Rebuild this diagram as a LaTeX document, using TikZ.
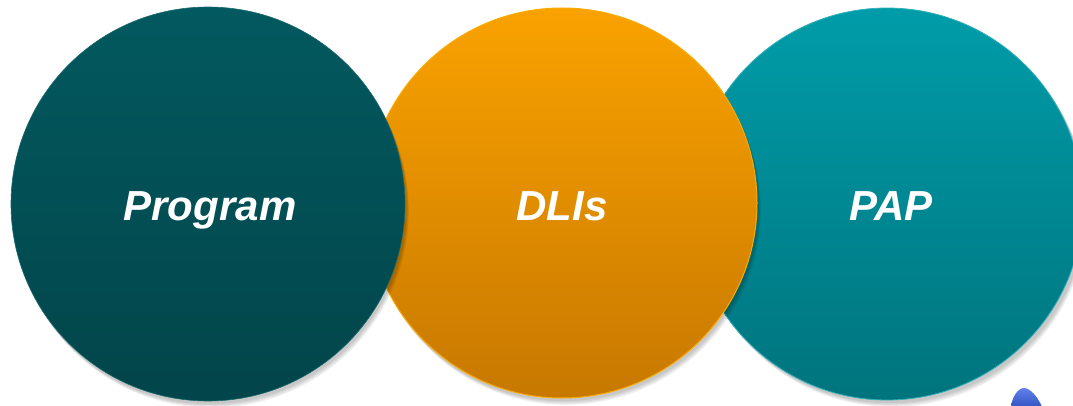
\documentclass[tikz,border=0pt]{standalone}
\usepackage{fontspec}
\setmainfont{Liberation Sans}
\usetikzlibrary{shadows}
\definecolor{progtop}{HTML}{02595F}
\definecolor{progbot}{HTML}{02454A}
\definecolor{dlitop}{HTML}{FAA200}
\definecolor{dlibot}{HTML}{C77800}
\definecolor{paptop}{HTML}{009CA9}
\definecolor{papbot}{HTML}{00747D}
\definecolor{blobblue}{HTML}{3A62E6}
\tikzset{
  bubble/.style={circle, inner sep=0pt, shading=axis, shading angle=0,
    font=\fontsize{42}{46}\selectfont\bfseries\itshape, text=white,
    text height=30pt, text depth=0pt},
  shade1/.style={fill=black, opacity=0.06},
}
\begin{document}
\begin{tikzpicture}[x=1pt,y=1pt]
\useasboundingbox (0,0) rectangle (1073,405);
\begin{scope}
\clip (0,0) rectangle (1073,405);
% soft shadows
\foreach \d in {1,2,3,4}{
  \fill[shade1] (889+0.7*\d,199-1.2*\d) circle (196);
}
\node[bubble, minimum size=392pt, top color=paptop, bottom color=papbot,
      draw=paptop!80!white, line width=0.8pt] (pap) at (887,201) {};
\node[font=\fontsize{42}{46}\selectfont\bfseries\itshape, text=white,
      text height=30pt, text depth=0pt, inner sep=0pt] (paptext) at (891,200) {PAP};
\foreach \d in {1,2,3,4}{
  \fill[shade1] (563+0.7*\d,200-1.2*\d) circle (195);
}
\node[bubble, minimum size=390pt, top color=dlitop, bottom color=dlibot,
      draw=dlitop!90!yellow, line width=1pt] (dli) at (562,202) {};
\node[font=\fontsize{42}{46}\selectfont\bfseries\itshape, text=white,
      text height=30pt, text depth=0pt, inner sep=0pt] (dlitext) at (562,200) {DLIs};
\foreach \d in {1,2,3,4}{
  \fill[shade1] (209+0.7*\d,199-1.2*\d) circle (197);
}
\node[bubble, minimum size=394pt, top color=progtop, bottom color=progbot,
      draw=progtop!90!white, line width=0.6pt] (prog) at (208,201) {};
\node[font=\fontsize{42}{46}\selectfont\bfseries\itshape, text=white,
      text height=30pt, text depth=0pt, inner sep=0pt] (progtext) at (210,200) {Program};
% blue blob at the bottom right
\shade[top color=blobblue!80!white, bottom color=blobblue!85!black]
  (1011,-2) .. controls (1012,8) and (1018,17) .. (1024,17)
  .. controls (1030,17) and (1038,8) .. (1042,-2) -- cycle;
\end{scope}
\end{tikzpicture}
\end{document}
